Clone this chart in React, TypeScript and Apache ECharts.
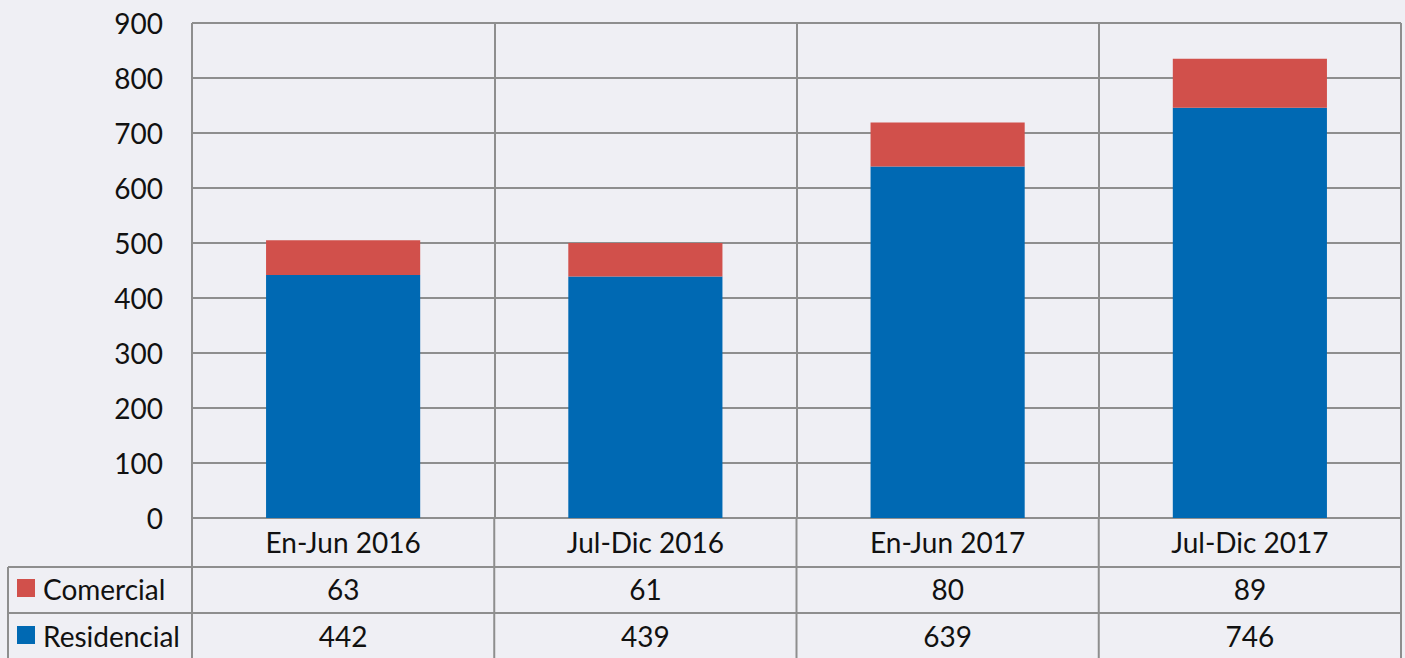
import React, { useEffect, useRef } from "react";
import * as echarts from "echarts";

const categories = ["En-Jun 2016", "Jul-Dic 2016", "En-Jun 2017", "Jul-Dic 2017"];
const residencial = [442, 439, 639, 746];
const comercial = [63, 61, 80, 89];
const seriesNames = ["Comercial", "Residencial"];
const yTicks = { min: 0, max: 900, interval: 100 };

const W = 1405;
const H = 658;
const GL = 192;
const GR = 1401;
const GT = 23;
const GB = 518;
const ROW1 = 567;
const ROW2 = 613;
const TL = 8;
const LINE = "#8e8e8e";
const BG = "#efeff4";
const RED = "#d1504b";
const BLUE = "#0069b3";
const FONT = "Lato, 'Noto Sans', sans-serif";
const FS = 28;

export default function App() {
  const ref = useRef<HTMLDivElement>(null);
  useEffect(() => {
    if (!ref.current) return;
    const chart = echarts.init(ref.current, undefined, { renderer: "svg" });
    const cw = (GR - GL) / categories.length;
    const graphic: any[] = [];
    for (let i = 0; i <= categories.length; i++) {
      const x = GL + cw * i;
      graphic.push({ type: "line", shape: { x1: x, y1: GB, x2: x, y2: H }, style: { stroke: LINE, lineWidth: 2 }, silent: true });
    }
    graphic.push({ type: "line", shape: { x1: TL, y1: ROW1, x2: TL, y2: H }, style: { stroke: LINE, lineWidth: 2 } });
    graphic.push({ type: "line", shape: { x1: TL, y1: ROW1, x2: GR, y2: ROW1 }, style: { stroke: LINE, lineWidth: 2 } });
    graphic.push({ type: "line", shape: { x1: TL, y1: ROW2, x2: GR, y2: ROW2 }, style: { stroke: LINE, lineWidth: 2 } });
    const rows = [
      { name: seriesNames[0], color: RED, vals: comercial, y: 589 },
      { name: seriesNames[1], color: BLUE, vals: residencial, y: 636 },
    ];
    rows.forEach((r) => {
      graphic.push({ type: "rect", shape: { x: 17, y: r.y - 10, width: 18, height: 18 }, style: { fill: r.color } });
      graphic.push({
        type: "text", x: 43, y: r.y,
        style: { text: r.name, fill: "#111", font: `${FS}px ${FONT}`, verticalAlign: "middle", align: "left" },
      });
      r.vals.forEach((v, i) => {
        graphic.push({
          type: "text", x: GL + cw * (i + 0.5), y: r.y,
          style: { text: String(v), fill: "#111", font: `${FS}px ${FONT}`, verticalAlign: "middle", align: "center" },
        });
      });
    });

    chart.setOption({
      animation: false,
      backgroundColor: BG,
      grid: { left: GL, right: W - GR, top: GT, bottom: H - GB, containLabel: false, show: false },
      xAxis: {
        type: "category",
        data: categories,
        axisLine: { show: true, lineStyle: { color: LINE, width: 2 } },
        axisTick: { show: false },
        splitLine: { show: true, interval: 0, lineStyle: { color: LINE, width: 2 } },
        axisLabel: { color: "#111", fontSize: FS, fontFamily: FONT, margin: 10, interval: 0 },
      },
      yAxis: {
        type: "value",
        min: yTicks.min,
        max: yTicks.max,
        interval: yTicks.interval,
        axisLine: { show: false },
        axisTick: { show: false },
        splitLine: { show: true, lineStyle: { color: LINE, width: 2 } },
        axisLabel: { color: "#111", fontSize: FS, fontFamily: FONT, margin: 29 },
      },
      series: [
        { name: seriesNames[1], type: "bar", stack: "t", data: residencial, barWidth: "51%", itemStyle: { color: BLUE } },
        { name: seriesNames[0], type: "bar", stack: "t", data: comercial, barWidth: "51%", itemStyle: { color: RED } },
      ],
      graphic,
    });
    return () => chart.dispose();
  }, []);
  return <div ref={ref} style={{ width: W, height: H, position: "absolute", left: 0, top: 0 }} />;
}
